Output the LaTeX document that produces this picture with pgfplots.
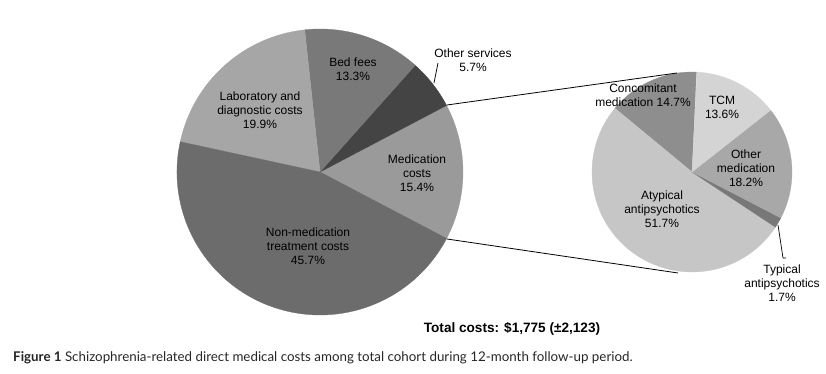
\documentclass[border=0pt]{standalone}
\usepackage{pgfplots}
\pgfplotsset{compat=1.18}
\usepackage{pgfplotstable}
\usepackage{fontspec}
\setmainfont{Liberation Sans}
\newfontfamily\capfont{Lato}

% main pie: counterclockwise from Medication costs
\pgfplotstableread{
val g
15.4 154
5.7 68
13.3 121
19.9 166
45.7 108
}\maintab
% secondary pie (medication costs): counterclockwise from Concomitant
\pgfplotstableread{
val g
14.7 142
51.7 198
1.7 120
18.2 168
13.6 212
}\subtab

\newcommand\drawpie[5]{%
  \pgfplotstablegetrowsof{#1}\pgfmathtruncatemacro\nrows{\pgfplotsretval-1}%
  \xdef\acc{#5}%
  \pgfplotsforeachungrouped \i in {0,...,\nrows}{%
    \pgfplotstablegetelem{\i}{val}\of#1\let\v\pgfplotsretval
    \pgfplotstablegetelem{\i}{g}\of#1\let\gv\pgfplotsretval
    \pgfmathsetmacro\a{\acc}%
    \pgfmathsetmacro\b{\acc+3.6*\v}%
    \xdef\acc{\b}%
    \edef\cmd{\noexpand\filldraw[line width=0.3pt,fill={rgb,255:red,\gv;green,\gv;blue,\gv},draw={rgb,255:red,\gv;green,\gv;blue,\gv}] (axis cs:#2,#3) -- ++(\a:#4pt) arc[start angle=\a, end angle=\b, radius=#4pt] -- cycle;}%
    \cmd
  }%
}

\begin{document}
\begin{tikzpicture}[lbl/.style={font=\fontsize{12}{14}\selectfont,align=center,inner sep=0pt}]
\begin{axis}[x=1pt,y=1pt,xmin=0,xmax=826,ymin=0,ymax=374,hide axis,clip=false]
\path (axis cs:0,0) rectangle (axis cs:826,374);
\drawpie{\maintab}{320}{202}{143}{-27.7}
\drawpie{\subtab}{692}{202}{100}{87.5}
% connector lines
\draw[black,line width=0.8pt] (axis cs:447,269) -- (axis cs:677,301);
\draw[black,line width=0.8pt] (axis cs:447,135) -- (axis cs:678,101);
% leader lines
\draw[black,line width=0.7pt] (axis cs:434,291) -- (axis cs:438,311);
\draw[black,line width=0.7pt] (axis cs:778,149) -- (axis cs:783,116) -- (axis cs:786,116);
% labels main
\node[lbl] at (axis cs:353,305) {Bed fees\\13.3\%};
\node[lbl] at (axis cs:473,314) {Other services\\5.7\%};
\node[lbl] at (axis cs:260,264) {Laboratory and\\diagnostic costs\\19.9\%};
\node[lbl] at (axis cs:417,201) {Medication\\costs\\15.4\%};
\node[lbl] at (axis cs:308,128) {Non-medication\\treatment costs\\45.7\%};
% labels secondary
\node[lbl] at (axis cs:643,278.5) {Concomitant\\medication 14.7\%};
\node[lbl] at (axis cs:722,267) {TCM\\13.6\%};
\node[lbl] at (axis cs:746,206) {Other\\medication\\18.2\%};
\node[lbl] at (axis cs:662,165) {Atypical\\antipsychotics\\51.7\%};
\node[lbl] at (axis cs:782,91) {Typical\\antipsychotics\\1.7\%};
% total
\node[inner sep=0pt,font=\fontsize{13.6}{16}\selectfont\bfseries] at (axis cs:512,45) {Total costs: \$1,775 (±2,123)};
% caption
\node[inner sep=0pt,anchor=west,text=black!85,font=\capfont\fontsize{13.35}{15}\selectfont] at (axis cs:13,16) {\textbf{Figure 1} Schizophrenia-related direct medical costs among total cohort during 12-month follow-up period.};
\end{axis}
\end{tikzpicture}
\end{document}
